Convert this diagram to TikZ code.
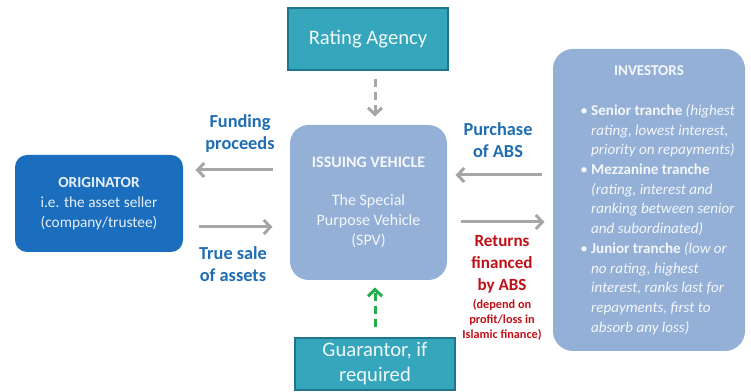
\documentclass[tikz,border=0pt]{standalone}
\usepackage{fontspec}
\setmainfont{Carlito}
\usetikzlibrary{arrows.meta}

\tikzset{every picture/.style={line width=0.75pt}}
\tikzset{
  origbox/.style={fill={rgb, 255:red, 27; green, 110; blue, 189 }, rounded corners=9pt, inner sep=0pt, align=center,
    text={rgb, 255:red, 232; green, 239; blue, 248 }, font=\fontsize{11.5}{15}\selectfont},
  vehiclebox/.style={fill={rgb, 255:red, 148; green, 176; blue, 214 }, rounded corners=14pt, inner sep=0pt, align=center,
    text={rgb, 255:red, 244; green, 247; blue, 251 }, font=\fontsize{12}{15}\selectfont},
  agencybox/.style={draw={rgb, 255:red, 31; green, 118; blue, 136 }, line width=1.2pt, fill={rgb, 255:red, 53; green, 166; blue, 188 },
    inner sep=0pt, align=center, text={rgb, 255:red, 240; green, 248; blue, 250 }, font=\fontsize{15.5}{18.75}\selectfont},
  flowlabel/.style={text={rgb, 255:red, 31; green, 109; blue, 178 }, inner sep=0pt, align=center, font=\bfseries\fontsize{13.75}{16.5}\selectfont},
  greyarrow/.style={draw={rgb, 255:red, 166; green, 166; blue, 166 }, line width=2.25pt, -{Straight Barb[length=5pt,width=10.5pt]}},
  checkarrow/.style={greyarrow, dash pattern={on 6pt off 4pt}},
}

\begin{document}
\begin{tikzpicture}[x=0.75pt,y=0.75pt,yscale=-1,xscale=1]
\useasboundingbox (0,0) rectangle (751,392);

%Shape: Rounded Rect [id:orig]
\node [origbox, minimum width=126pt, minimum height=72.75pt] (orig) at (99,203.5) {\textbf{ORIGINATOR}\\i.e. the asset seller\\(company/trustee)};
%Shape: Rect [id:rating]
\node [agencybox, minimum width=120pt, minimum height=46.5pt] (rating) at (368,39) {Rating Agency};
%Shape: Rounded Rect [id:spv]
\node [vehiclebox, minimum width=117.75pt, minimum height=116.25pt] (spv) at (368.5,202.5) {\textbf{ISSUING VEHICLE}\\[13.5pt]The Special\\Purpose Vehicle\\(SPV)};
%Shape: Rect [id:guar]
\node [agencybox, minimum width=120pt, minimum height=39pt] (guar) at (375,364) {Guarantor, if\\required};
%Shape: Rounded Rect [id:inv]
\node [vehiclebox, rounded corners=15pt, minimum width=144pt, minimum height=226.5pt, font=\fontsize{11.3}{14.8}\selectfont] (inv) at (649,200) {%
\begin{tabular}{@{\hspace{13pt}}l@{\hspace{2.5pt}}l@{}}
\multicolumn{2}{c}{\textbf{INVESTORS}}\\[15pt]
•&\textbf{Senior tranche} \textit{(highest}\\
&\textit{rating, lowest interest,}\\
&\textit{priority on repayments)}\\
•&\textbf{Mezzanine tranche}\\
&\textit{(rating, interest and}\\
&\textit{ranking between senior}\\
&\textit{and subordinated)}\\
•&\textbf{Junior tranche} \textit{(low or}\\
&\textit{no rating, highest}\\
&\textit{interest, ranks last for}\\
&\textit{repayments, first to}\\
&\textit{absorb any loss)}
\end{tabular}};

%rows of the arrows
\coordinate (fundrow) at (0,170);
\coordinate (salerow) at (0,227);
\coordinate (buyrow) at (0,175);
\coordinate (payrow) at (0,222);

%Straight Lines
\draw [greyarrow, shorten <=12.75pt, shorten >=9pt] (spv.west |- fundrow) -- (orig.east |- fundrow);
\draw [greyarrow, shorten <=11.25pt, shorten >=12.75pt] (orig.east |- salerow) -- (spv.west |- salerow);
\draw [greyarrow, shorten <=8.25pt, shorten >=6pt] (inv.west |- buyrow) -- (spv.east |- buyrow);
\draw [greyarrow, shorten <=9.75pt, shorten >=6pt] (spv.east |- payrow) -- (inv.west |- payrow);
\draw [checkarrow, shorten <=6pt, shorten >=6pt] ([xshift=5.25pt]rating.south) -- ([xshift=5.25pt]rating.south |- spv.north);
\draw [checkarrow, draw={rgb, 255:red, 34; green, 172; blue, 76 }, shorten <=7.5pt, shorten >=5.25pt] (guar.north) -- (guar.north |- spv.south);

% Text Node
\node [flowlabel] (fundlbl) at (240,134) {Funding\\proceeds};
% Text Node
\node [flowlabel] (salelbl) at (233,264) {True sale\\of assets};
% Text Node
\node [flowlabel] (buylbl) at (498,140) {Purchase\\of ABS};
% Text Node
\node [flowlabel, text={rgb, 255:red, 190; green, 16; blue, 22 }, font=\bfseries\fontsize{12.8}{16.5}\selectfont] (paylbl) at (502,264.5) {Returns\\financed\\by ABS};
% Text Node
\node [flowlabel, text={rgb, 255:red, 190; green, 16; blue, 22 }, font=\bfseries\fontsize{9.2}{11.25}\selectfont] (paynote) at (502,319.5) {(depend on\\profit/loss in\\Islamic finance)};

\end{tikzpicture}
\end{document}
